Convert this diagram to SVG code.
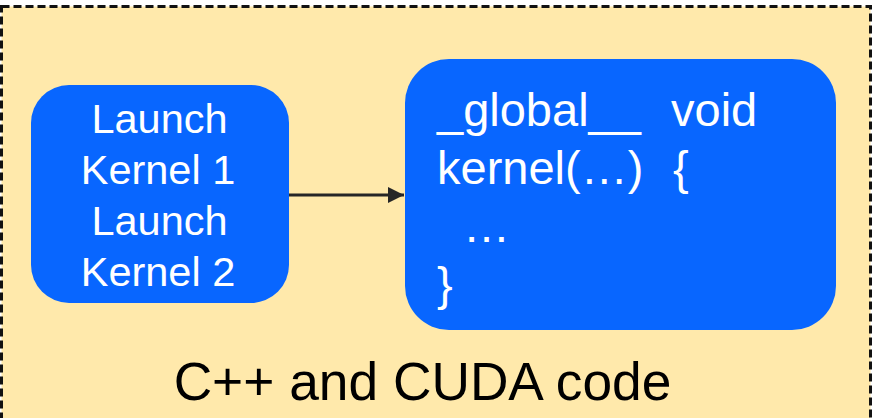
<svg xmlns="http://www.w3.org/2000/svg" width="872" height="418" viewBox="0 0 872 418">
  <style>
    .frame { fill: #FFE9AB; stroke: #111111; stroke-width: 3; stroke-dasharray: 8 4; }
    .box { fill: #0866FF; }
    .lbl { font-family: "Liberation Sans", Arial, sans-serif; fill: #FFFFFF; font-size: 41.5px; text-anchor: middle; }
    .code { font-family: "Liberation Sans", Arial, sans-serif; fill: #FFFFFF; font-size: 47px; white-space: pre; }
    .title { font-family: "Liberation Sans", Arial, sans-serif; fill: #000000; font-size: 53.3px; }
    .edge { stroke: #262626; stroke-width: 3.2; fill: none; }
  </style>
  <defs>
    <marker id="arrow" markerUnits="userSpaceOnUse" markerWidth="18" markerHeight="18" refX="16" refY="8" orient="auto">
      <path d="M0,0 L16,8 L0,16 Z" fill="#262626"/>
    </marker>
  </defs>

  <!-- outer dashed container -->
  <g id="container">
    <rect class="frame" x="1.5" y="6.5" width="869" height="430"/>
    <text class="title" x="422.5" y="400" text-anchor="middle">C++ and CUDA code</text>
  </g>

  <!-- host code node -->
  <g id="host">
    <rect class="box" x="31" y="85" width="258" height="218" rx="38" ry="38"/>
    <text class="lbl" x="159.5" y="133">Launch</text>
    <text class="lbl" x="158" y="184">Kernel 1</text>
    <text class="lbl" x="159.5" y="235">Launch</text>
    <text class="lbl" x="158" y="286">Kernel 2</text>
  </g>

  <!-- device kernel node -->
  <g id="kernel">
    <rect class="box" x="405" y="59" width="431" height="271" rx="44" ry="44"/>
    <text class="code" x="437" y="126">_global__  <tspan x="671">void</tspan></text>
    <text class="code" x="437" y="184">kernel(…)  <tspan x="673">{</tspan></text>
    <text class="code" x="437" y="242">  …</text>
    <text class="code" x="437" y="300">}</text>
  </g>

  <!-- connectors -->
  <g id="connectors">
    <line class="edge" x1="289" y1="195" x2="404" y2="195" marker-end="url(#arrow)"/>
  </g>
</svg>
